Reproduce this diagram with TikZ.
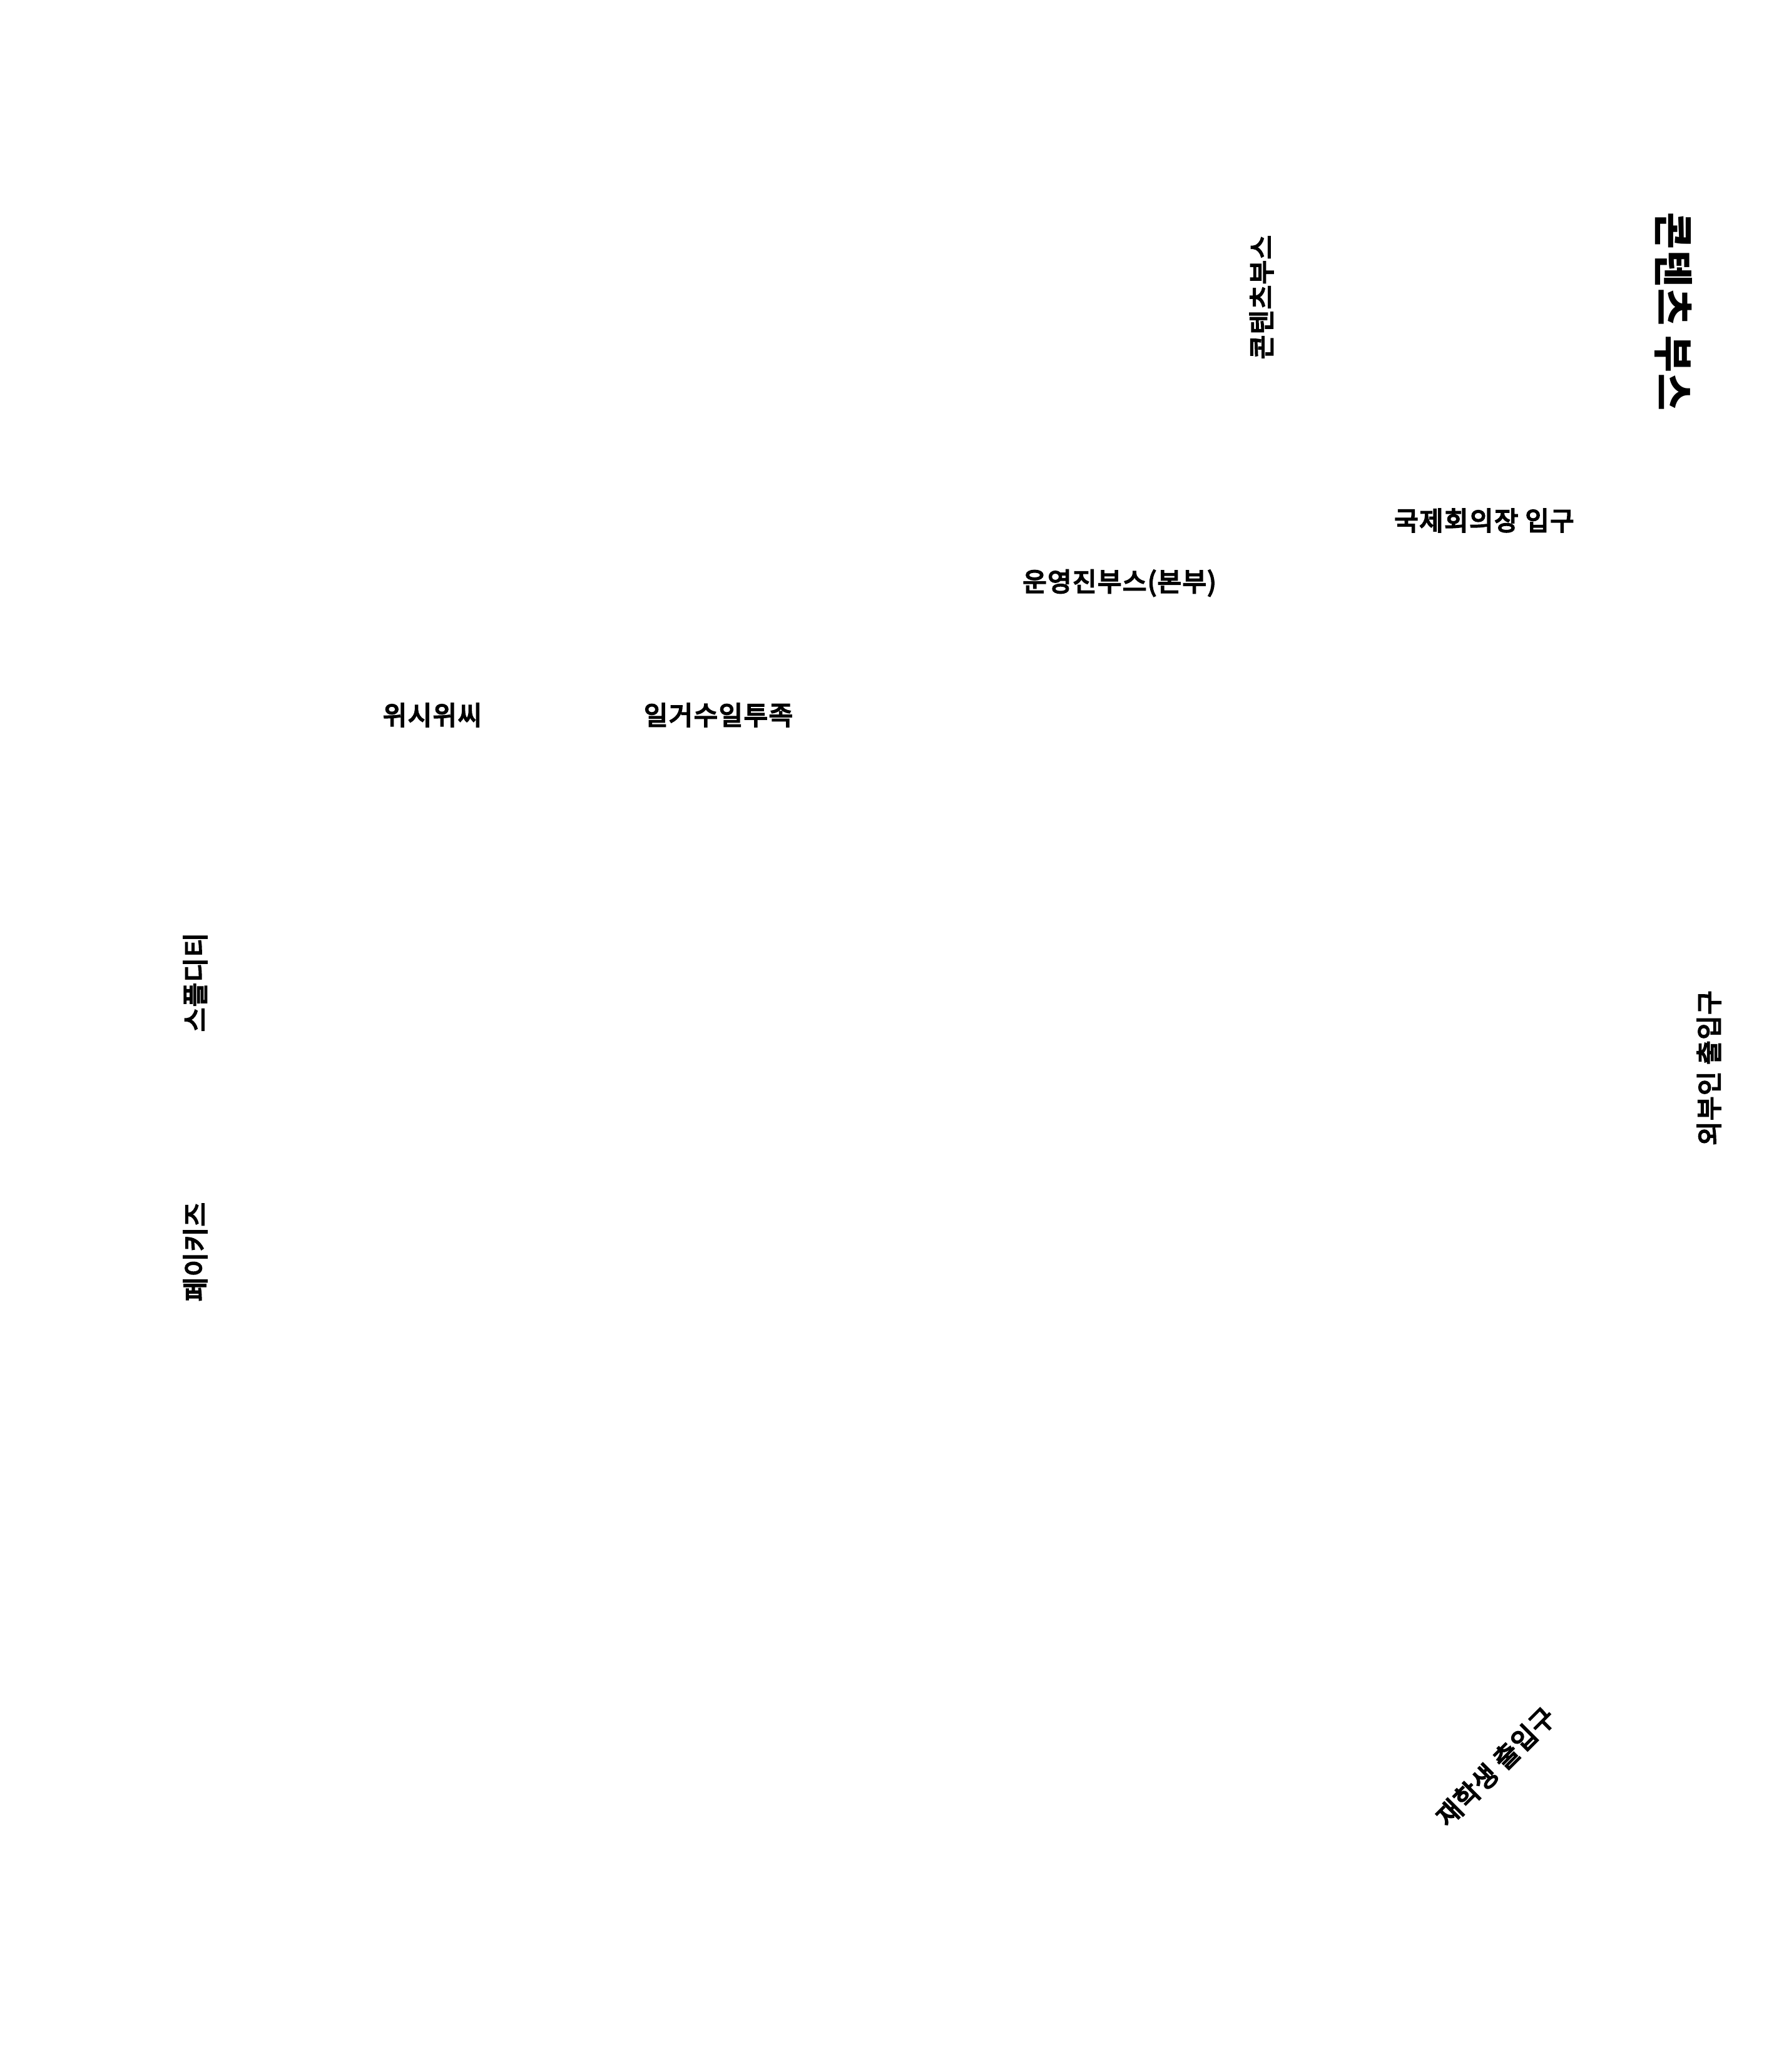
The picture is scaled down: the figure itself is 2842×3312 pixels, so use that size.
\documentclass[tikz,border=0pt]{standalone}
\usepackage{fontspec}
\setmainfont{Noto Sans CJK KR}
\newfontfamily\krm[LetterSpace=4,FakeBold=5]{Noto Sans CJK KR}
\newfontfamily\krb[LetterSpace=3]{Noto Sans CJK KR}
\begin{document}
\begin{tikzpicture}[x=0.25pt,y=-0.25pt,
  lbl/.style={inner sep=0pt,outer sep=0pt,anchor=center,font=\krm\fontsize{10.4pt}{12pt}\selectfont,text=black},
  biglbl/.style={lbl,font=\krb\bfseries\fontsize{16pt}{19pt}\selectfont}]
\useasboundingbox[fill=white] (0,0) rectangle (2842,3312);
\node[biglbl,rotate=-90] (booth) at (2674,498) {콘텐츠 부스};
\node[lbl,rotate=90] (content) at (2016,475) {콘텐츠부스};
\node[lbl] (intl) at (2372,832) {국제회의장 입구};
\node[lbl] (staff) at (1789,932) {운영진부스(본부)};
\node[lbl] (wish) at (691,1143) {위시위씨};
\node[lbl] (ilgeo) at (1148,1143) {일거수일투족};
\node[lbl,rotate=90] (spl) at (312,1570) {스플디티};
\node[lbl,rotate=90] (pay) at (312,2001) {페이키즈};
\node[lbl,rotate=90] (outer) at (2731,1707) {외부인 출입구};
\node[lbl,rotate=45] (student) at (2390,2824) {재학생 출입구};
\end{tikzpicture}
\end{document}
